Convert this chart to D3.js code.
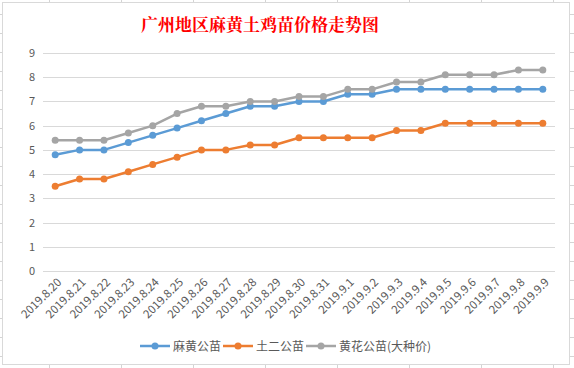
<!DOCTYPE html>
<html><head><meta charset="utf-8">
<script src="https://cdn.jsdelivr.net/npm/d3@7"></script>
<style>body{margin:0;background:#fff}svg{display:block}</style>
</head><body>
<svg id="c" width="574" height="368"></svg>
<script>
const categories = ["2019.8.20","2019.8.21","2019.8.22","2019.8.23","2019.8.24","2019.8.25","2019.8.26","2019.8.27","2019.8.28","2019.8.29","2019.8.30","2019.8.31","2019.9.1","2019.9.2","2019.9.3","2019.9.4","2019.9.5","2019.9.6","2019.9.7","2019.9.8","2019.9.9"];
const mahuang = [4.8,5.0,5.0,5.3,5.6,5.9,6.2,6.5,6.8,6.8,7.0,7.0,7.3,7.3,7.5,7.5,7.5,7.5,7.5,7.5,7.5];
const tuer = [3.5,3.8,3.8,4.1,4.4,4.7,5.0,5.0,5.2,5.2,5.5,5.5,5.5,5.5,5.8,5.8,6.1,6.1,6.1,6.1,6.1];
const huanghua = [5.4,5.4,5.4,5.7,6.0,6.5,6.8,6.8,7.0,7.0,7.2,7.2,7.5,7.5,7.8,7.8,8.1,8.1,8.1,8.3,8.3];
const seriesNames = ["麻黄公苗","土二公苗","黄花公苗(大种价)"];
const yTicks = [0,1,2,3,4,5,6,7,8,9];
const title = "广州地区麻黄土鸡苗价格走势图";
const colors = ["#5B9BD5","#ED7D31","#A5A5A5"];

const svg = d3.select("#c");
const W = 574, H = 368;
// spreadsheet grid behind
const sheet = svg.append("g");
[49,121,193,265,337,409,481,553].forEach(x=>sheet.append("line").attr("x1",x+0.5).attr("x2",x+0.5).attr("y1",0).attr("y2",H).attr("stroke","#d4d4d4"));
[14,33,52,71,90,109,128,147,166,185,204,223,242,261,280,299,318,337,356].forEach(y=>sheet.append("line").attr("x1",0).attr("x2",W).attr("y1",y+0.5).attr("y2",y+0.5).attr("stroke","#d4d4d4"));
// chart area
svg.append("rect").attr("x",2.5).attr("y",2.5).attr("width",567).attr("height",362).attr("fill","#fff").attr("stroke","#d9d9d9");

const font = "'Noto Sans CJK SC', 'Microsoft YaHei', sans-serif";
svg.append("text").attr("x",260).attr("y",31).attr("text-anchor","middle")
  .attr("font-family","'Noto Serif CJK SC', 'Noto Sans CJK SC', serif").attr("font-size",17).attr("font-weight","bold")
  .attr("fill","#FF0000").text(title);

const x = d3.scaleBand().domain(categories).range([43,555]);
const y = d3.scaleLinear().domain([0,9]).range([271,53]);

const grid = svg.append("g");
yTicks.forEach(t=>grid.append("line").attr("x1",43).attr("x2",555).attr("y1",Math.round(y(t))+0.5).attr("y2",Math.round(y(t))+0.5).attr("stroke","#d9d9d9"));

const yAxis = svg.append("g").attr("transform","translate(43,0)")
  .call(d3.axisLeft(y).tickValues(yTicks).tickSize(0).tickPadding(8));
yAxis.select(".domain").remove();
yAxis.selectAll("text").attr("font-family",font).attr("font-size",11).attr("fill","#595959");

const xAxis = svg.append("g").attr("transform","translate(0,271)")
  .call(d3.axisBottom(x).tickSize(0).tickPadding(0));
xAxis.select(".domain").remove();
xAxis.selectAll("text").attr("font-family",font).attr("font-size",11.5).attr("fill","#595959")
  .attr("text-anchor","end").attr("dy",0)
  .attr("transform","translate(7,12) rotate(-45)");

const data = [mahuang,tuer,huanghua];
const line = d3.line().x((d,i)=>x(categories[i])+x.bandwidth()/2).y(d=>y(d));
data.forEach((s,k)=>{
  svg.append("path").datum(s).attr("d",line).attr("fill","none").attr("stroke",colors[k]).attr("stroke-width",2.5).attr("stroke-linejoin","round");
  svg.append("g").selectAll("circle").data(s).join("circle")
    .attr("cx",(d,i)=>x(categories[i])+x.bandwidth()/2).attr("cy",d=>y(d)).attr("r",3.5).attr("fill",colors[k]);
});

// legend
const lx = [140,223,306];
seriesNames.forEach((n,k)=>{
  const g = svg.append("g").attr("transform",`translate(${lx[k]},346)`);
  g.append("line").attr("x1",0).attr("x2",30).attr("y1",0).attr("y2",0).attr("stroke",colors[k]).attr("stroke-width",2.5);
  g.append("circle").attr("cx",15).attr("cy",0).attr("r",3.5).attr("fill",colors[k]);
  g.append("text").attr("x",33).attr("y",4.5).attr("font-family",font).attr("font-size",12).attr("fill","#595959").text(n);
});
</script>
</body></html>
